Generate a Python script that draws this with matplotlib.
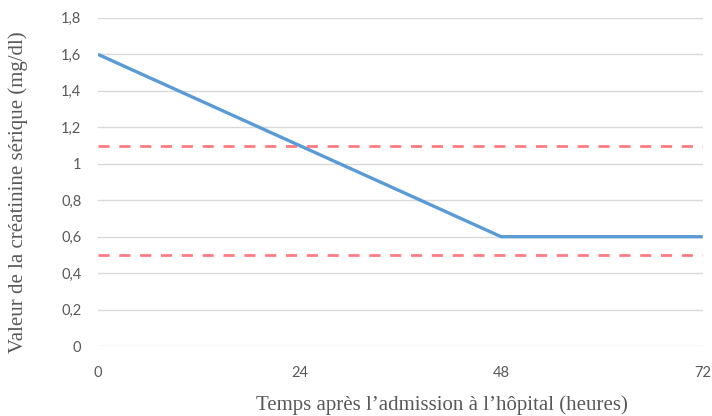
import matplotlib
matplotlib.use("Agg")
import matplotlib.pyplot as plt

# data
hours = [0, 48, 72]
creatinine = [1.6, 0.6, 0.6]
upper_limit = 1.1
lower_limit = 0.5
x_ticks = [0, 24, 48, 72]
y_ticks = [0, 0.2, 0.4, 0.6, 0.8, 1.0, 1.2, 1.4, 1.6, 1.8]

fig = plt.figure(figsize=(7.12, 4.16), dpi=100)
ax = fig.add_axes([0.1376, 0.168, 0.987 - 0.1376, 0.957 - 0.168])

for y in y_ticks:
    ax.axhline(y, color="#D9D9D9", lw=1.0, zorder=1)

ax.axhline(upper_limit, color="#FF7C80", lw=2.0, ls=(0, (4, 3.5)), zorder=2)
ax.axhline(lower_limit, color="#FF7C80", lw=2.0, ls=(0, (4, 3.5)), zorder=2)
ax.plot(hours, creatinine, color="#5B9BD5", lw=2.4, zorder=3, solid_capstyle="butt")

ax.set_xlim(0, 72)
ax.set_ylim(0, 1.8)
ax.set_xticks(x_ticks)
ax.set_yticks(y_ticks)
ax.set_yticklabels([f"{v:g}".replace(".", ",") for v in y_ticks])
ax.tick_params(length=0, labelsize=10.5, labelcolor="#595959")
ax.tick_params(axis="x", pad=14)
ax.tick_params(axis="y", pad=12)
for lbl in ax.get_xticklabels() + ax.get_yticklabels():
    lbl.set_family("Lato")
for s in ax.spines.values():
    s.set_visible(False)

# axis titles sit a little off-centre in the original
fig.text(442 / 712, 1 - 405 / 416, "Temps après l’admission à l’hôpital (heures)",
         family="Liberation Serif", fontsize=15, color="#595959", ha="center", va="center")
fig.text(18 / 712, 1 - 192 / 416, "Valeur de la créatinine sérique (mg/dl)",
         family="Liberation Serif", fontsize=15, color="#595959", ha="center", va="center",
         rotation=90)

fig.savefig("out.png", dpi=100)
